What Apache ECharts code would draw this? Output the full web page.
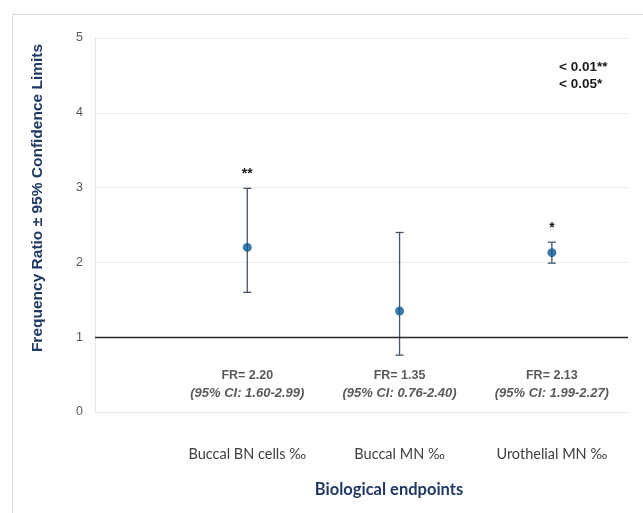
<!DOCTYPE html>
<html>
<head>
<meta charset="utf-8">
<script src="https://cdn.jsdelivr.net/npm/echarts@6/dist/echarts.min.js"></script>
<style>
html,body{margin:0;padding:0;background:#fff;}
#chart{width:643px;height:513px;}
</style>
</head>
<body>
<div id="chart"></div>
<script>
// ---- Data ----
const categories = ['Buccal BN cells ‰', 'Buccal MN ‰', 'Urothelial MN ‰'];
const frequencyRatio = [2.20, 1.35, 2.13];
const ciLow = [1.60, 0.76, 1.99];
const ciHigh = [2.99, 2.40, 2.27];
const significance = ['**', '', '*'];
const yTicks = [0, 1, 2, 3, 4, 5];
const pValueLegend = ['< 0.01**', '< 0.05*'];
const referenceLine = 1;
const yTitle = 'Frequency Ratio ± 95% Confidence Limits';
const xTitle = 'Biological endpoints';

// ---- Build ----
const chart = echarts.init(document.getElementById('chart'));
const xPos = categories.map((c, i) => i + 1);
const errData = categories.map((c, i) => [xPos[i], ciLow[i], ciHigh[i], frequencyRatio[i], i]);
const pointData = categories.map((c, i) => [xPos[i], frequencyRatio[i]]);
const fmt = v => v.toFixed(2);

const option = {
  backgroundColor: '#ffffff',
  animation: false,
  grid: { left: 95, right: 15, top: 38, bottom: 101 },
  xAxis: {
    type: 'value', min: 0, max: 3.5, interval: 1,
    axisLine: { show: true, lineStyle: { color: '#e6e6e6', width: 1 } },
    axisTick: { show: false },
    splitLine: { show: false },
    axisLabel: {
      margin: 35, color: '#404040', fontFamily: 'Lato', fontSize: 14.5,
      formatter: v => categories[v - 1] || ''
    }
  },
  yAxis: {
    type: 'value', min: yTicks[0], max: yTicks[yTicks.length - 1], interval: 1,
    axisLine: { show: true, lineStyle: { color: '#e6e6e6', width: 1 } },
    axisTick: { show: false },
    splitLine: { show: true, lineStyle: { color: '#ececec', width: 1 } },
    axisLabel: { margin: 12, color: '#595959', fontFamily: 'Liberation Sans', fontSize: 12.5 }
  },
  graphic: [
    { type: 'rect', left: 10, top: 12, shape: { width: 640, height: 510 },
      style: { fill: 'none', stroke: '#d9d9d9', lineWidth: 1 }, z: -1 },
    { type: 'text', x: 38, y: 198, rotation: Math.PI / 2,
      style: { text: yTitle, fill: '#1f3864', font: 'bold 15.5px "Liberation Sans"', align: 'center', verticalAlign: 'middle' } },
    { type: 'text', x: 389, y: 490,
      style: { text: xTitle, fill: '#1f3864', font: 'bold 16.5px Lato', align: 'center', verticalAlign: 'middle' } },
    { type: 'text', x: 559, y: 67,
      style: { text: pValueLegend[0], fill: '#1a1a1a', font: 'bold 13.5px "Liberation Sans"', align: 'left', verticalAlign: 'middle' } },
    { type: 'text', x: 559, y: 84,
      style: { text: pValueLegend[1], fill: '#1a1a1a', font: 'bold 13.5px "Liberation Sans"', align: 'left', verticalAlign: 'middle' } }
  ],
  series: [
    {
      type: 'custom',
      data: errData,
      z: 3,
      renderItem: function (params, api) {
        const x = api.value(0);
        const lo = api.coord([x, api.value(1)]);
        const hi = api.coord([x, api.value(2)]);
        const base = api.coord([x, 0]);
        const idx = api.value(4);
        const cap = 4;
        const ls = { stroke: '#44546a', lineWidth: 1.3 };
        const children = [
          { type: 'line', shape: { x1: lo[0], y1: lo[1], x2: hi[0], y2: hi[1] }, style: ls },
          { type: 'line', shape: { x1: lo[0] - cap, y1: lo[1], x2: lo[0] + cap, y2: lo[1] }, style: ls },
          { type: 'line', shape: { x1: hi[0] - cap, y1: hi[1], x2: hi[0] + cap, y2: hi[1] }, style: ls },
          { type: 'text', x: base[0], y: base[1] - 36,
            style: { text: 'FR= ' + fmt(frequencyRatio[idx]), fill: '#595959', font: 'bold 12.5px "Liberation Sans"', align: 'center', verticalAlign: 'middle' } },
          { type: 'text', x: base[0], y: base[1] - 19,
            style: { text: '(95% CI: ' + fmt(ciLow[idx]) + '-' + fmt(ciHigh[idx]) + ')', fill: '#595959', font: 'italic bold 13px "Liberation Sans"', align: 'center', verticalAlign: 'middle' } }
        ];
        if (significance[idx]) {
          children.push({ type: 'text', x: hi[0], y: hi[1] - 7,
            style: { text: significance[idx], fill: '#1a1a1a', font: 'bold 14px "Liberation Sans"', align: 'center', verticalAlign: 'bottom' } });
        }
        return { type: 'group', children: children };
      }
    },
    {
      type: 'scatter',
      data: pointData,
      symbol: 'circle',
      symbolSize: 9,
      z: 4,
      itemStyle: { color: '#0b5a94' },
      markLine: {
        silent: true,
        symbol: 'none',
        label: { show: false },
        lineStyle: { color: '#262626', width: 1.3, type: 'solid' },
        data: [{ yAxis: referenceLine }]
      }
    }
  ]
};
chart.setOption(option);
</script>
</body>
</html>
